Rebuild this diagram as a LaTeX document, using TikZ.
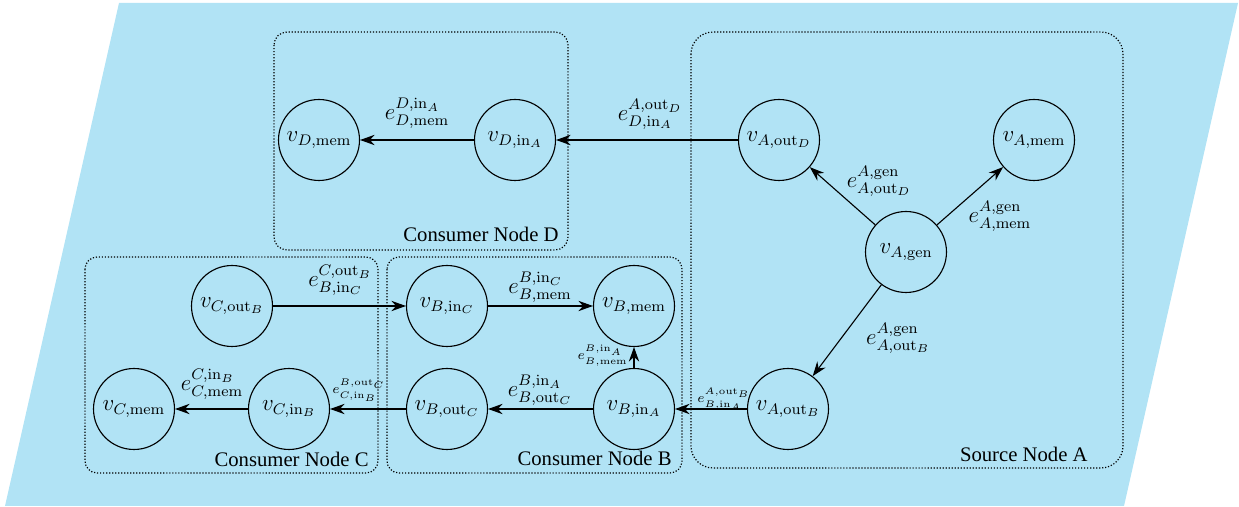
\documentclass[tikz,border=0pt]{standalone}
\usepackage[no-math]{fontspec}
\usetikzlibrary{arrows.meta}
\newfontfamily\boxfont{Liberation Serif}
\definecolor{bgblue}{RGB}{177,227,245}
\tikzset{
  vtx/.style={circle, draw, line width=0.58pt, minimum size=42.25pt, inner sep=0pt,
    font=\large},
  elab/.style={inner sep=0pt, font=\large},
  slab/.style={inner sep=0pt, font=\scriptsize},
  grp/.style={draw, line width=0.62pt, dash pattern=on 0.62pt off 0.95pt},
  grplab/.style={anchor=base east, inner sep=0pt, font=\boxfont\fontsize{10.8}{12}\selectfont},
  edge/.style={line width=0.58pt, -{Stealth[length=7.6pt,width=5.4pt]}}
}
\begin{document}
\begin{tikzpicture}[x=0.5217pt, y=-0.5217pt]
\useasboundingbox (0,0) rectangle (1239,507);
\fill[bgblue] (119,3) -- (1238,3) -- (1124,506) -- (5,506) -- cycle;
% groups
\draw[grp, rounded corners=6.8pt] (274,32) rectangle (568,250);
\draw[grp, rounded corners=11.5pt] (691,32) rectangle (1123,468);
\draw[grp, rounded corners=6.3pt] (387,257) rectangle (682,473);
\draw[grp, rounded corners=6.3pt] (85,257) rectangle (378,473);
\node[grplab] (gD) at (559,242) {Consumer Node D};
\node[grplab] (gA) at (1088,462) {Source Node A};
\node[grplab] (gB) at (672,466) {Consumer Node B};
\node[grplab] (gC) at (369,467) {Consumer Node C};
% vertices
\node[vtx] (vDmem) at (319,140) {$v_{D,\mathrm{mem}}$};
\node[vtx] (vDin) at (515,140) {$v_{D,\mathrm{in}_A}$};
\node[vtx] (vAoutD) at (779,140) {$v_{A,\mathrm{out}_D}$};
\node[vtx] (vAmem) at (1034,140) {$v_{A,\mathrm{mem}}$};
\node[vtx] (vAgen) at (906,252) {$v_{A,\mathrm{gen}}$};
\node[vtx] (vAoutB) at (788,409) {$v_{A,\mathrm{out}_B}$};
\node[vtx] (vBinA) at (634,409) {$v_{B,\mathrm{in}_A}$};
\node[vtx] (vBmem) at (634,306) {$v_{B,\mathrm{mem}}$};
\node[vtx] (vBinC) at (447,306) {$v_{B,\mathrm{in}_C}$};
\node[vtx] (vBoutC) at (447,409) {$v_{B,\mathrm{out}_C}$};
\node[vtx] (vCoutB) at (232,306) {$v_{C,\mathrm{out}_B}$};
\node[vtx] (vCinB) at (289,409) {$v_{C,\mathrm{in}_B}$};
\node[vtx] (vCmem) at (134,409) {$v_{C,\mathrm{mem}}$};
% edges
\draw[edge] (vDin) -- (vDmem);
\draw[edge] (vAoutD) -- (vDin);
\draw[edge] (vAgen) -- (vAoutD);
\draw[edge] (vAgen) -- (vAmem);
\draw[edge] (vAgen) -- (vAoutB);
\draw[edge] (vAoutB) -- (vBinA);
\draw[edge] (vBinA) -- (vBmem);
\draw[edge] (vBinA) -- (vBoutC);
\draw[edge] (vBinC) -- (vBmem);
\draw[edge] (vCoutB) -- (vBinC);
\draw[edge] (vBoutC) -- (vCinB);
\draw[edge] (vCinB) -- (vCmem);
% edge labels
\node[elab] (lDmem) at (417,113) {$e^{D,\mathrm{in}_A}_{D,\mathrm{mem}}$};
\node[elab] (lDin) at (650,114) {$e^{A,\mathrm{out}_D}_{D,\mathrm{in}_A}$};
\node[elab] (lAoutD) at (879,181) {$e^{A,\mathrm{gen}}_{A,\mathrm{out}_D}$};
\node[elab] (lAmem) at (1000,216) {$e^{A,\mathrm{gen}}_{A,\mathrm{mem}}$};
\node[elab] (lAoutB) at (898,338) {$e^{A,\mathrm{gen}}_{A,\mathrm{out}_B}$};
\node[elab] (lBinC) at (340,280) {$e^{C,\mathrm{out}_B}_{B,\mathrm{in}_C}$};
\node[elab] (lBmem) at (540,287) {$e^{B,\mathrm{in}_C}_{B,\mathrm{mem}}$};
\node[elab] (lBoutC) at (540,390) {$e^{B,\mathrm{in}_A}_{B,\mathrm{out}_C}$};
\node[elab] (lCmem) at (212,384) {$e^{C,\mathrm{in}_B}_{C,\mathrm{mem}}$};
\node[slab, anchor=west] (lCinB) at (332,390) {$e^{B,\mathrm{out}_C}_{C,\mathrm{in}_B}$};
\node[slab, anchor=east] (lBmemA) at (628,356) {$e^{B,\mathrm{in}_A}_{B,\mathrm{mem}}$};
\node[slab, anchor=west] (lBinA) at (697,399) {$e^{A,\mathrm{out}_B}_{B,\mathrm{in}_A}$};
\end{tikzpicture}
\end{document}
